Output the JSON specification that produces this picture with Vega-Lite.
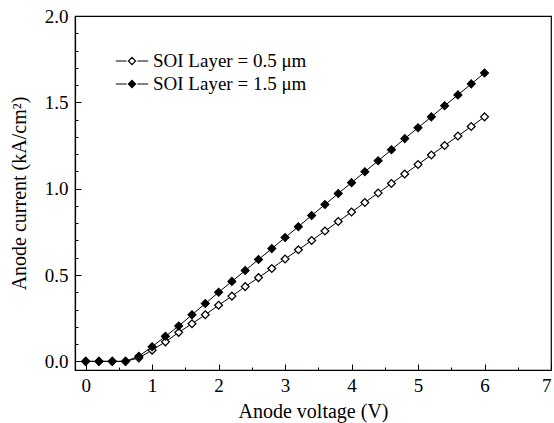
{
  "$schema": "https://vega.github.io/schema/vega-lite/v6.json",
  "width": 476,
  "height": 354,
  "autosize": {"type": "none"},
  "padding": {"left": 75, "top": 16, "right": 3, "bottom": 53},
  "background": "white",
  "config": {
    "view": {"stroke": "black", "strokeWidth": 1.2},
    "font": "Liberation Serif",
    "axis": {"domainColor": "black", "tickColor": "black", "labelColor": "black", "titleColor": "black", "labelFont": "Liberation Serif", "titleFont": "Liberation Serif", "labelFontSize": 19, "titleFontSize": 20, "titleFontWeight": "normal", "grid": false, "labelOverlap": false, "labelFlush": false}
  },
  "data": {"values": [
    {"v": 0.0, "j": 0, "s": "SOI Layer = 0.5 μm"}, {"v": 0.2, "j": 0, "s": "SOI Layer = 0.5 μm"}, {"v": 0.4, "j": 0, "s": "SOI Layer = 0.5 μm"}, {"v": 0.6, "j": 0, "s": "SOI Layer = 0.5 μm"},
    {"v": 0.8, "j": 0.02, "s": "SOI Layer = 0.5 μm"}, {"v": 1.0, "j": 0.065, "s": "SOI Layer = 0.5 μm"}, {"v": 1.2, "j": 0.113, "s": "SOI Layer = 0.5 μm"}, {"v": 1.4, "j": 0.168, "s": "SOI Layer = 0.5 μm"},
    {"v": 1.6, "j": 0.218, "s": "SOI Layer = 0.5 μm"}, {"v": 1.8, "j": 0.27, "s": "SOI Layer = 0.5 μm"}, {"v": 2.0, "j": 0.325, "s": "SOI Layer = 0.5 μm"}, {"v": 2.2, "j": 0.378, "s": "SOI Layer = 0.5 μm"},
    {"v": 2.4, "j": 0.433, "s": "SOI Layer = 0.5 μm"}, {"v": 2.6, "j": 0.485, "s": "SOI Layer = 0.5 μm"}, {"v": 2.8, "j": 0.538, "s": "SOI Layer = 0.5 μm"}, {"v": 3.0, "j": 0.593, "s": "SOI Layer = 0.5 μm"},
    {"v": 3.2, "j": 0.646, "s": "SOI Layer = 0.5 μm"}, {"v": 3.4, "j": 0.7, "s": "SOI Layer = 0.5 μm"}, {"v": 3.6, "j": 0.755, "s": "SOI Layer = 0.5 μm"}, {"v": 3.8, "j": 0.81, "s": "SOI Layer = 0.5 μm"},
    {"v": 4.0, "j": 0.865, "s": "SOI Layer = 0.5 μm"}, {"v": 4.2, "j": 0.92, "s": "SOI Layer = 0.5 μm"}, {"v": 4.4, "j": 0.975, "s": "SOI Layer = 0.5 μm"}, {"v": 4.6, "j": 1.03, "s": "SOI Layer = 0.5 μm"},
    {"v": 4.8, "j": 1.085, "s": "SOI Layer = 0.5 μm"}, {"v": 5.0, "j": 1.14, "s": "SOI Layer = 0.5 μm"}, {"v": 5.2, "j": 1.195, "s": "SOI Layer = 0.5 μm"}, {"v": 5.4, "j": 1.25, "s": "SOI Layer = 0.5 μm"},
    {"v": 5.6, "j": 1.305, "s": "SOI Layer = 0.5 μm"}, {"v": 5.8, "j": 1.36, "s": "SOI Layer = 0.5 μm"}, {"v": 6.0, "j": 1.416, "s": "SOI Layer = 0.5 μm"},
    {"v": 0.0, "j": 0, "s": "SOI Layer = 1.5 μm"}, {"v": 0.2, "j": 0, "s": "SOI Layer = 1.5 μm"}, {"v": 0.4, "j": 0, "s": "SOI Layer = 1.5 μm"}, {"v": 0.6, "j": 0, "s": "SOI Layer = 1.5 μm"},
    {"v": 0.8, "j": 0.03, "s": "SOI Layer = 1.5 μm"}, {"v": 1.0, "j": 0.085, "s": "SOI Layer = 1.5 μm"}, {"v": 1.2, "j": 0.145, "s": "SOI Layer = 1.5 μm"}, {"v": 1.4, "j": 0.205, "s": "SOI Layer = 1.5 μm"},
    {"v": 1.6, "j": 0.27, "s": "SOI Layer = 1.5 μm"}, {"v": 1.8, "j": 0.335, "s": "SOI Layer = 1.5 μm"}, {"v": 2.0, "j": 0.4, "s": "SOI Layer = 1.5 μm"}, {"v": 2.2, "j": 0.463, "s": "SOI Layer = 1.5 μm"},
    {"v": 2.4, "j": 0.526, "s": "SOI Layer = 1.5 μm"}, {"v": 2.6, "j": 0.59, "s": "SOI Layer = 1.5 μm"}, {"v": 2.8, "j": 0.653, "s": "SOI Layer = 1.5 μm"}, {"v": 3.0, "j": 0.717, "s": "SOI Layer = 1.5 μm"},
    {"v": 3.2, "j": 0.78, "s": "SOI Layer = 1.5 μm"}, {"v": 3.4, "j": 0.845, "s": "SOI Layer = 1.5 μm"}, {"v": 3.6, "j": 0.908, "s": "SOI Layer = 1.5 μm"}, {"v": 3.8, "j": 0.972, "s": "SOI Layer = 1.5 μm"},
    {"v": 4.0, "j": 1.035, "s": "SOI Layer = 1.5 μm"}, {"v": 4.2, "j": 1.098, "s": "SOI Layer = 1.5 μm"}, {"v": 4.4, "j": 1.162, "s": "SOI Layer = 1.5 μm"}, {"v": 4.6, "j": 1.225, "s": "SOI Layer = 1.5 μm"},
    {"v": 4.8, "j": 1.29, "s": "SOI Layer = 1.5 μm"}, {"v": 5.0, "j": 1.353, "s": "SOI Layer = 1.5 μm"}, {"v": 5.2, "j": 1.416, "s": "SOI Layer = 1.5 μm"}, {"v": 5.4, "j": 1.48, "s": "SOI Layer = 1.5 μm"},
    {"v": 5.6, "j": 1.543, "s": "SOI Layer = 1.5 μm"}, {"v": 5.8, "j": 1.607, "s": "SOI Layer = 1.5 μm"}, {"v": 6.0, "j": 1.67, "s": "SOI Layer = 1.5 μm"}
  ]},
  "encoding": {
    "x": {"field": "v", "type": "quantitative", "title": "Anode voltage (V)",
      "scale": {"domain": [-0.16, 7], "nice": false, "zero": false},
      "axis": {"values": [0, 0.5, 1, 1.5, 2, 2.5, 3, 3.5, 4, 4.5, 5, 5.5, 6, 6.5, 7],
        "labelExpr": "datum.value % 1 === 0 ? format(datum.value, 'd') : ''",
        "tickSize": {"condition": {"test": "datum.value % 1 === 0", "value": -6}, "value": -3},
        "labelFlush": true,
        "labelPadding": 12, "titlePadding": 3, "domainWidth": 1.2}},
    "y": {"field": "j", "type": "quantitative", "title": "Anode current (kA/cm²)",
      "scale": {"domain": [-0.05, 2.0], "nice": false, "zero": false},
      "axis": {"values": [0, 0.1, 0.2, 0.3, 0.4, 0.5, 0.6, 0.7, 0.8, 0.9, 1, 1.1, 1.2, 1.3, 1.4, 1.5, 1.6, 1.7, 1.8, 1.9, 2.0],
        "labelExpr": "abs(datum.value*2 - round(datum.value*2)) < 0.000001 ? format(datum.value, '.1f') : ''",
        "tickSize": {"condition": {"test": "abs(datum.value*2 - round(datum.value*2)) < 0.000001", "value": -6}, "value": -3},
        "labelPadding": 13, "titlePadding": 15, "domainWidth": 1.2}}
  },
  "layer": [
    {"mark": {"type": "line", "color": "black", "strokeWidth": 1},
     "encoding": {"detail": {"field": "s"}}},
    {"mark": {"type": "point", "shape": "diamond", "filled": false, "size": 60, "stroke": "black", "strokeWidth": 1.3, "opacity": 1},
     "encoding": {"fill": {"field": "s", "type": "nominal",
        "scale": {"domain": ["SOI Layer = 0.5 μm", "SOI Layer = 1.5 μm"], "range": ["white", "black"]},
        "legend": {"title": null, "orient": "none", "legendX": 44, "legendY": 32,
          "symbolType": "M-1.35,0H-0.45M0.45,0H1.35M0,-0.3L0.3,0L0,0.3L-0.3,0Z",
          "symbolSize": 576, "symbolStrokeColor": "black", "symbolStrokeWidth": 1.2, "symbolOpacity": 1,
          "labelFont": "Liberation Serif", "labelFontSize": 19, "labelColor": "black", "labelOffset": 8, "labelLimit": 300, "rowPadding": 0}}}}
  ]
}
